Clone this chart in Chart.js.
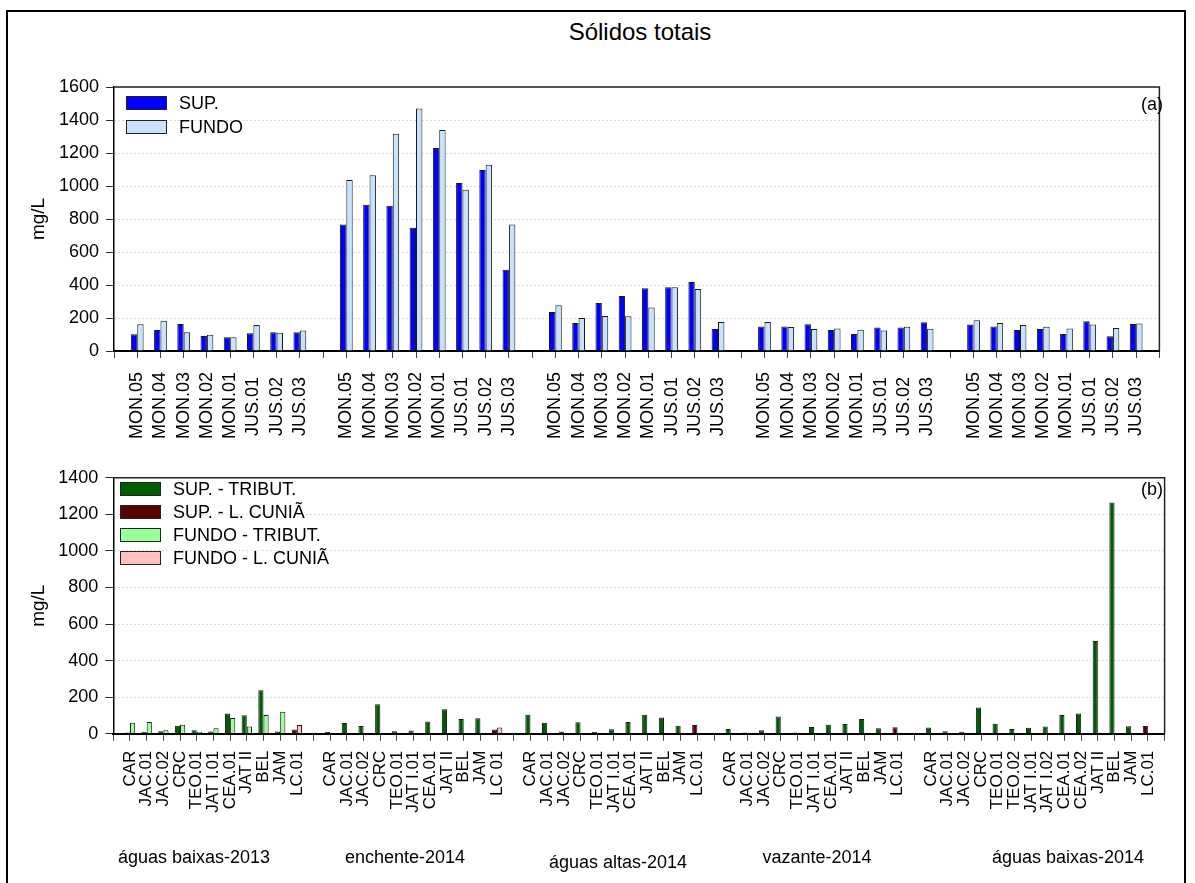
<!DOCTYPE html>
<html>
<head>
<meta charset="utf-8">
<script src="https://cdn.jsdelivr.net/npm/chart.js@4/dist/chart.umd.min.js"></script>
<style>
html,body{margin:0;padding:0;background:#fff;}
body{width:1195px;height:883px;position:relative;overflow:hidden;font-family:"Liberation Sans",Arial,sans-serif;color:#000;}
.abs{position:absolute;white-space:nowrap;}
#frame{position:absolute;left:6px;top:10px;width:1180px;height:900px;border:2px solid #000;box-sizing:border-box;}
#title{left:440px;width:400px;top:19px;text-align:center;font-size:24px;line-height:26px;}
canvas{position:absolute;left:0;}
#c1{top:0;}
#c2{top:460px;}
.box{position:absolute;width:41px;height:14px;border:1.3px solid #222;box-sizing:border-box;}
.lt{position:absolute;font-size:18px;line-height:20px;}
.per{position:absolute;font-size:18px;line-height:20px;width:220px;text-align:center;}
</style>
</head>
<body>
<div id="frame"></div>
<div id="title" class="abs">Sólidos totais</div>
<canvas id="c1" width="1195" height="460"></canvas>
<canvas id="c2" width="1195" height="423"></canvas>

<div class="box" style="left:126px;top:96px;background:#0000ff;"></div>
<div class="lt" style="left:179px;top:93px;">SUP.</div>
<div class="box" style="left:126px;top:120px;background:#c6e2ff;"></div>
<div class="lt" style="left:179px;top:117px;">FUNDO</div>
<div class="lt" style="left:1100px;width:63px;text-align:right;top:94px;">(a)</div>

<div class="box" style="left:120px;top:482px;background:#005c00;"></div>
<div class="lt" style="left:173px;top:479px;">SUP. - TRIBUT.</div>
<div class="box" style="left:120px;top:505px;background:#5a0000;"></div>
<div class="lt" style="left:173px;top:502px;">SUP. - L. CUNIÃ</div>
<div class="box" style="left:120px;top:528px;background:#99ff99;"></div>
<div class="lt" style="left:173px;top:525px;">FUNDO - TRIBUT.</div>
<div class="box" style="left:120px;top:551px;background:#ffc0c0;"></div>
<div class="lt" style="left:173px;top:548px;">FUNDO - L. CUNIÃ</div>
<div class="lt" style="left:1100px;width:63px;text-align:right;top:479px;">(b)</div>

<div class="per" style="left:84px;top:847px;">águas baixas-2013</div>
<div class="per" style="left:295px;top:847px;">enchente-2014</div>
<div class="per" style="left:508px;top:852px;">águas altas-2014</div>
<div class="per" style="left:707px;top:847px;">vazante-2014</div>
<div class="per" style="left:958px;top:847px;">águas baixas-2014</div>

<script>
// ---------- DATA ----------
const periods = ['águas baixas-2013','enchente-2014','águas altas-2014','vazante-2014','águas baixas-2014'];

// (a) main channel stations
const stationsA = ['MON.05','MON.04','MON.03','MON.02','MON.01','JUS.01','JUS.02','JUS.03'];
const supA_baixas13 = [101,127,164,91,83,107,113,113];
const supA_enchente14 = [766,887,881,747,1230,1018,1097,493];
const supA_altas14 = [236,170,291,333,380,386,418,133];
const supA_vazante14 = [149,149,162,127,103,143,143,174];
const supA_baixas14 = [160,149,127,133,103,180,89,164];
const fundoA_baixas13 = [162,184,113,99,83,158,111,125];
const fundoA_enchente14 = [1036,1065,1317,1469,1339,978,1129,766];
const fundoA_altas14 = [277,200,212,210,263,386,376,176];
const fundoA_vazante14 = [176,145,133,137,129,125,147,135];
const fundoA_baixas14 = [186,170,158,147,137,160,139,166];

// (b) tributaries + Lago Cuniã
const stationsB_baixas13 = ['CAR','JAC.01','JAC.02','CRC','TEO.01','JAT I.01','CEA.01','JAT II','BEL','JAM','LC.01'];
const stationsB_enchente14 = ['CAR','JAC.01','JAC.02','CRC','TEO.01','JAT I.01','CEA.01','JAT II','BEL','JAM','LC 01'];
const stationsB_altas14 = ['CAR','JAC.01','JAC.02','CRC','TEO.01','JAT I.01','CEA.01','JAT II','BEL','JAM','LC.01'];
const stationsB_vazante14 = ['CAR','JAC.01','JAC.02','CRC','TEO.01','JAT I.01','CEA.01','JAT II','BEL','JAM','LC.01'];
const stationsB_baixas14 = ['CAR','JAC.01','JAC.02','CRC','TEO.01','TEO.02','JAT I.01','JAT I.02','CEA.01','CEA.02','JAT II','BEL','JAM','LC.01'];
// tributary values (all stations except LC.01, which is the last one)
const supTrib_baixas13 = [7,10,14,44,19,12,111,101,238,12];
const supTrib_enchente14 = [9,58,42,161,14,18,67,134,81,85];
const supTrib_altas14 = [104,60,12,62,9,25,64,104,88,44];
const supTrib_vazante14 = [26,7,19,94,7,37,49,53,81,30];
const supTrib_baixas14 = [34,14,11,143,55,26,32,39,102,111,507,1265,41];
const fundoTrib_baixas13 = [60,64,19,49,10,30,86,39,102,120];
// Lago Cuniã (LC.01) per period
const supLC = [23,23,48,35,42];
const fundoLC = [48,34,null,null,null];

// ---------- BUILD ----------
function withGaps(groups){ const out=['']; groups.forEach(g=>{ out.push(...g,''); }); return out; }
function seriesGaps(groups){ const out=[null]; groups.forEach(g=>{ out.push(...g,null); }); return out; }

const labelsA = withGaps([stationsA,stationsA,stationsA,stationsA,stationsA]);
const supAll = seriesGaps([supA_baixas13,supA_enchente14,supA_altas14,supA_vazante14,supA_baixas14]);
const fundoAll = seriesGaps([fundoA_baixas13,fundoA_enchente14,fundoA_altas14,fundoA_vazante14,fundoA_baixas14]);

const stB = [stationsB_baixas13,stationsB_enchente14,stationsB_altas14,stationsB_vazante14,stationsB_baixas14];
const supTr = [supTrib_baixas13,supTrib_enchente14,supTrib_altas14,supTrib_vazante14,supTrib_baixas14];
const fundoTr = [fundoTrib_baixas13,null,null,null,null];
const labelsB = withGaps(stB);
const sTrib=[null], sLC=[null], fTrib=[null], fLC=[null];
stB.forEach((st,gi)=>{
  const n = st.length;
  for(let i=0;i<n-1;i++){
    sTrib.push(supTr[gi][i]); sLC.push(null);
    fTrib.push(fundoTr[gi] ? fundoTr[gi][i] : null); fLC.push(null);
  }
  sTrib.push(null); sLC.push(supLC[gi]); fTrib.push(null); fLC.push(fundoLC[gi]);
  sTrib.push(null); sLC.push(null); fTrib.push(null); fLC.push(null);
});

// ---------- STYLE ----------
const FONT = '"Liberation Sans", Arial, sans-serif';
const framePlugin = {
  id:'frame',
  afterDraw(chart){
    const {ctx, chartArea:a} = chart;
    ctx.save();
    ctx.strokeStyle='#222'; ctx.lineWidth=1.5;
    ctx.beginPath(); ctx.moveTo(a.left,a.top); ctx.lineTo(a.right,a.top); ctx.lineTo(a.right,a.bottom); ctx.stroke();
    ctx.restore();
  }
};

function yScale(max, w){
  return {
    min:0, max:max,
    ticks:{stepSize:200, color:'#000', font:{family:FONT,size:18}, padding:7, callback:(v)=>String(v)},
    grid:{color:'#b8b8b8', lineWidth:1, drawTicks:true, tickLength:8, tickColor:'#333', tickWidth:1},
    border:{display:true, color:'#000', width:1.5, dash:[1,3]},
    title:{display:true, text:'mg/L', color:'#000', font:{family:FONT,size:19}, padding:{top:27,bottom:0}},
    afterFit(s){ s.width = w; }
  };
}

new Chart(document.getElementById('c1'), {
  type:'bar',
  data:{
    labels: labelsA,
    datasets:[
      {label:'SUP.', data:supAll, backgroundColor:'#0000ff', borderColor:'#1a1a1a', borderWidth:1, categoryPercentage:0.55, barPercentage:1},
      {label:'FUNDO', data:fundoAll, backgroundColor:'#c6e2ff', borderColor:'#1a1a1a', borderWidth:1, categoryPercentage:0.55, barPercentage:1}
    ]
  },
  options:{
    responsive:false, animation:false, devicePixelRatio:1,
    layout:{padding:{left:0,right:28,top:87,bottom:0}},
    plugins:{legend:{display:false}, tooltip:{enabled:false}, title:{display:false}},
    scales:{
      x:{
        offset:false,
        ticks:{autoSkip:false, minRotation:90, maxRotation:90, color:'#000', font:{family:FONT,size:18}, padding:14,
          callback(v){ const l=this.getLabelForValue(v); return l.indexOf('JUS')===0 ? l+'\u00a0' : l; }},
        grid:{display:true, drawOnChartArea:false, drawTicks:true, tickLength:7, tickColor:'#444', offset:false},
        border:{display:true, color:'#000', width:2},
        afterFit(s){ s.height = 109; }
      },
      y: yScale(1600, 114)
    }
  },
  plugins:[framePlugin]
});

new Chart(document.getElementById('c2'), {
  type:'bar',
  data:{
    labels: labelsB,
    datasets:[
      {label:'SUP. - TRIBUT.', data:sTrib, stack:'sup', backgroundColor:'#005c00', borderColor:'#1a1a1a', borderWidth:1, categoryPercentage:0.62, barPercentage:1},
      {label:'SUP. - L. CUNIÃ', data:sLC, stack:'sup', backgroundColor:'#5a0000', borderColor:'#1a1a1a', borderWidth:1, categoryPercentage:0.62, barPercentage:1},
      {label:'FUNDO - TRIBUT.', data:fTrib, stack:'fundo', backgroundColor:'#99ff99', borderColor:'#1a1a1a', borderWidth:1, categoryPercentage:0.62, barPercentage:1},
      {label:'FUNDO - L. CUNIÃ', data:fLC, stack:'fundo', backgroundColor:'#ffc0c0', borderColor:'#1a1a1a', borderWidth:1, categoryPercentage:0.62, barPercentage:1}
    ]
  },
  options:{
    responsive:false, animation:false, devicePixelRatio:1,
    layout:{padding:{left:0,right:28.5,top:9.5,bottom:0}},
    plugins:{legend:{display:false}, tooltip:{enabled:false}, title:{display:false}},
    scales:{
      x:{
        stacked:true, offset:false,
        ticks:{autoSkip:false, minRotation:90, maxRotation:90, color:'#000', font:{family:FONT,size:17}, padding:10},
        grid:{display:true, drawOnChartArea:false, drawTicks:true, tickLength:7, tickColor:'#444', offset:false},
        border:{display:true, color:'#000', width:2},
        afterFit(s){ s.height = 149.3; }
      },
      y: Object.assign(yScale(1400, 113.3), {stacked:true})
    }
  },
  plugins:[framePlugin]
});
</script>
</body>
</html>
